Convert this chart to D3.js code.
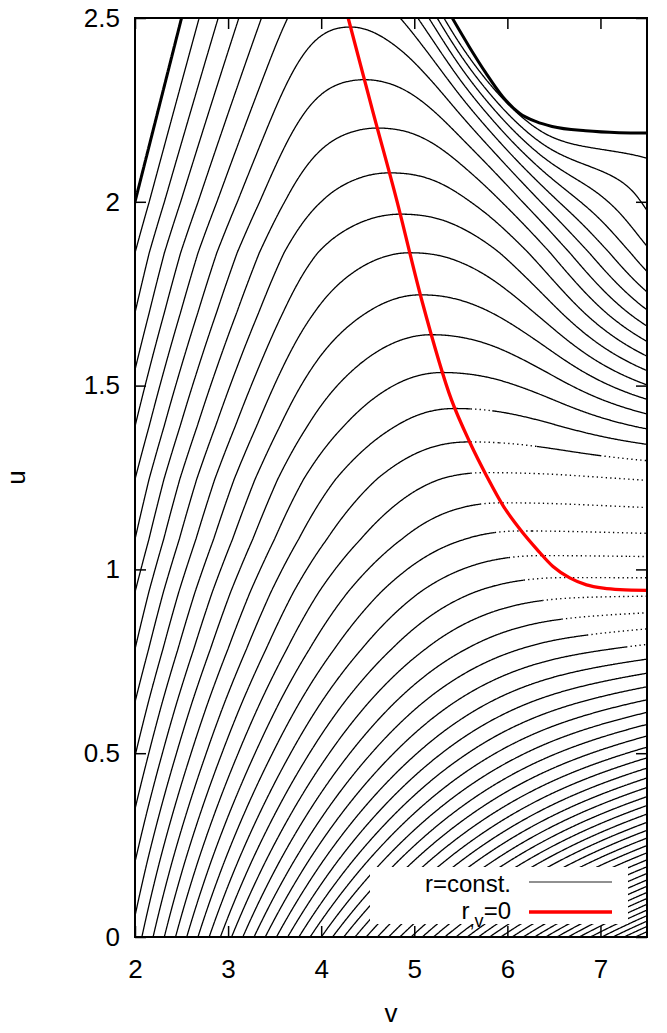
<!DOCTYPE html>
<html>
<head>
<meta charset="utf-8">
<script src="https://cdn.jsdelivr.net/npm/d3@7"></script>
<style>
body { margin: 0; background: #fff; }
text { font-family: "Liberation Sans", Arial, Helvetica, sans-serif; }
</style>
</head>
<body>
<svg id="chart" width="667" height="1033"></svg>
<script>
// ---- values ----
const xTicks = [2, 3, 4, 5, 6, 7];
const yTicks = [0, 0.5, 1, 1.5, 2, 2.5];

// apparent horizon r_v = 0, (v, u)
const horizonV = [4.29, 4.55, 4.81, 5.08, 5.40, 5.60, 5.78, 5.96, 6.14, 6.32, 6.49, 6.67, 6.85, 7.03, 7.21, 7.50];
const horizonU = [2.50, 2.25, 2.006, 1.733, 1.461, 1.344, 1.253, 1.171, 1.108, 1.054, 1.008, 0.977, 0.958, 0.949, 0.945, 0.943];

// thick r = 0 line, top right
const singV = [5.41, 5.59, 5.77, 5.95, 6.13, 6.31, 6.48, 6.84, 7.20, 7.50];
const singU = [2.499, 2.422, 2.350, 2.286, 2.241, 2.218, 2.205, 2.193, 2.188, 2.187];

// u where the contours 0, 1, 2 ... cut the left edge v = 2
const leftU = [2.0, 1.861, 1.698, 1.543, 1.389, 1.245, 1.082, 0.938, 0.783, 0.639, 0.492, 0.348, 0.204, 0.057];
// u where the contours 0, 1, 2 ... above the horizon cut the right edge v = 7.5
const rightU = [2.187, 2.155, 2.051, 1.829, 1.770, 1.734, 1.702, 1.668, 1.634, 1.598, 1.557, 1.521, 1.476, 1.430, 1.385, 1.331, 1.281, 1.231, 1.177, 1.122, 1.068, 1.018];

const levels = d3.range(1, 75);

// ---- layout ----
const X0 = 135, X1 = 647, Y0 = 18, Y1 = 937;
const x = d3.scaleLinear().domain([2, 7.5]).range([X0, X1]);
const y = d3.scaleLinear().domain([0, 2.5]).range([Y1, Y0]);
const svg = d3.select('#chart');

// ---- field: contour index, integrated along v on every row u ----
function monotone(xs, ys) {
  const n = xs.length, d = [], m = new Array(n);
  for (let i = 0; i < n - 1; i++) d.push((ys[i + 1] - ys[i]) / (xs[i + 1] - xs[i]));
  m[0] = d[0]; m[n - 1] = d[n - 2];
  for (let i = 1; i < n - 1; i++)
    m[i] = d[i - 1] * d[i] <= 0 ? 0 : 2 / (1 / d[i - 1] + 1 / d[i]);
  const f = function (t) {
    let i = d3.bisectRight(xs, t) - 1;
    i = Math.max(0, Math.min(n - 2, i));
    const h = xs[i + 1] - xs[i], s = (t - xs[i]) / h, s2 = s * s, s3 = s2 * s;
    return (2 * s3 - 3 * s2 + 1) * ys[i] + (s3 - 2 * s2 + s) * h * m[i] +
      (-2 * s3 + 3 * s2) * ys[i + 1] + (s3 - s2) * h * m[i + 1];
  };
  f.slope0 = m[0];
  return f;
}

const ahA = monotone(horizonV, horizonU);
const aTop = horizonU[0], vTop = horizonV[0];
const s0 = -ahA.slope0 / (aTop * aTop);
const tEnd = 0.9;
const c0 = Math.max(0, (1 / aTop - s0 * tEnd) / (tEnd * tEnd));
function invA(v) {
  if (v >= vTop) return 1 / ahA(Math.min(v, 7.5));
  const t = vTop - v;
  return Math.max(0, 1 / aTop - s0 * t - c0 * t * t);
}

const G = 8.3, lam = 0.45;
function alpha(v) { return 0.1 + 0.56 * Math.exp(-(v - 2.5) / 2.1); }
function rates(u, v) {
  const al = alpha(v);
  const w = al + (1 - al) * Math.exp(-u / lam);
  const xx = u * invA(v);
  const z = xx * xx - 1;
  if (z <= 0) return [-G * w * z, 0];
  return [0, G * w * z * (1 + z) * Math.exp(-Math.pow(z / 3.4, 6))];
}

const leftLevel = d3.scaleLinear().domain(leftU).range(d3.range(leftU.length));
const rightLevel = d3.scaleLinear().domain(rightU).range(d3.range(rightU.length));
const singAt = d3.scaleLinear().domain(singU).range(singV);

const VMIN = 1.9, VMAX = 7.6, UMIN = -0.1, UMAX = 2.6;
const nx = 570, ny = 900;
const dv = (VMAX - VMIN) / nx, du = (UMAX - UMIN) / ny;
const P = new Float64Array(nx * ny), Q = new Float64Array(nx * ny);

for (let j = 0; j < ny; j++) {
  const u = UMIN + (j + 0.5) * du;
  const vs = u < 2 ? 2 : u;
  const p0 = u < 2 ? leftLevel(u) : 0;
  const k = Math.max(0, Math.min(nx, Math.ceil((vs - VMIN) / dv - 0.5)));
  for (const dir of [1, -1]) {
    let p = p0, q = 0, vPrev = vs, rPrev = rates(u, vs);
    for (let i = dir > 0 ? k : k - 1; dir > 0 ? i < nx : i >= 0; i += dir) {
      const vi = VMIN + (i + 0.5) * dv;
      const rm = rates(u, (vPrev + vi) / 2), ri = rates(u, vi);
      const h = vi - vPrev;
      p += h / 6 * (rPrev[0] + 4 * rm[0] + ri[0]);
      q += h / 6 * (rPrev[1] + 4 * rm[1] + ri[1]);
      P[j * nx + i] = p; Q[j * nx + i] = q;
      vPrev = vi; rPrev = ri;
    }
  }
}

function rowAt(arr, j, v) {
  const fi = (v - VMIN) / dv - 0.5, i = Math.floor(fi), t = fi - i;
  return arr[j * nx + i] * (1 - t) + arr[j * nx + i + 1] * t;
}

// strength of the trapped part: a smooth cubic in u, least-squares fitted
// so that the rows meet the right-edge crossings and the r = 0 line
const uA = 1.06, uS = singU[singU.length - 1], uc = 1.8, deg = 4;
const A = d3.range(deg).map(() => new Array(deg).fill(0)), b = new Array(deg).fill(0);
for (let j = 0; j < ny; j++) {
  const u = UMIN + (j + 0.5) * du;
  if (u < uA || u > 2.5) continue;
  const vt = u >= uS ? singAt(u) : 7.5;
  const T = u >= uS ? 0 : rightLevel(u);
  const p = rowAt(P, j, vt), q = rowAt(Q, j, vt), t = u - uc;
  const f = d3.range(deg).map(e => q * Math.pow(t, e));
  for (let r = 0; r < deg; r++) {
    b[r] += f[r] * (p - T);
    for (let c = 0; c < deg; c++) A[r][c] += f[r] * f[c];
  }
}
function solve(M, rhs) {
  const n = rhs.length, m = M.map((row, i) => row.concat([rhs[i]]));
  for (let i = 0; i < n; i++) {
    let piv = i;
    for (let r = i + 1; r < n; r++) if (Math.abs(m[r][i]) > Math.abs(m[piv][i])) piv = r;
    [m[i], m[piv]] = [m[piv], m[i]];
    for (let r = 0; r < n; r++) {
      if (r === i) continue;
      const fct = m[r][i] / m[i][i];
      for (let c = i; c <= n; c++) m[r][c] -= fct * m[i][c];
    }
  }
  return m.map((row, i) => row[n] / row[i]);
}
const nCoef = solve(A, b);
function strength(u) {
  const t = Math.min(u, 2.5) - uc;
  let s = 0;
  nCoef.forEach((c, e) => { s += c * Math.pow(t, e); });
  return Math.max(0.1, s);
}

const field = new Float64Array(nx * ny);
for (let j = 0; j < ny; j++) {
  const n = strength(UMIN + (j + 0.5) * du);
  for (let i = 0; i < nx; i++)
    field[j * nx + i] = P[j * nx + i] - n * Q[j * nx + i];
}

// ---- drawing ----
const singPts = singV.map((v, i) => [v, singU[i]]);
const singLine = d3.line().x(d => x(d[0])).y(d => y(d[1])).curve(d3.curveMonotoneX);

svg.append('clipPath').attr('id', 'plot-clip')
  .append('path')
  .attr('d', `M${X0},${Y0}L${x(singV[0])},${Y0}` + singLine(singPts).replace(/^M/, 'L') +
    `L${X1},${Y1}L${X0},${Y1}Z`);
svg.append('clipPath').attr('id', 'frame-clip')
  .append('rect').attr('x', X0).attr('y', Y0).attr('width', X1 - X0).attr('height', Y1 - Y0);

const plot = svg.append('g').attr('clip-path', 'url(#plot-clip)');

function toPx(pt) {
  return [x(VMIN + pt[0] * dv), y(UMIN + pt[1] * du)];
}
function pathOf(run) {
  return 'M' + run.map(p => p[0].toFixed(2) + ',' + p[1].toFixed(2)).join('L');
}

let solidD = '', dottedD = '';
const contours = d3.contours().size([nx, ny]).thresholds(levels)(field);
contours.forEach(c => {
  c.coordinates.forEach(poly => poly.forEach(ring => {
    const pts = ring.map(toPx);
    let cur = null, curType = null;
    for (let k = 1; k < pts.length; k++) {
      const a = pts[Math.max(0, k - 6)], bb = pts[Math.min(pts.length - 1, k + 5)];
      const dx = bb[0] - a[0], dy = bb[1] - a[1];
      const vm = x.invert((pts[k - 1][0] + pts[k][0]) / 2);
      const type = (vm > 5.6 && Math.abs(dy) < 0.13 * Math.abs(dx)) ? 'd' : 's';
      if (type !== curType) {
        if (cur) { if (curType === 'd') dottedD += pathOf(cur); else solidD += pathOf(cur); }
        cur = [pts[k - 1]]; curType = type;
      }
      cur.push(pts[k]);
    }
    if (cur) { if (curType === 'd') dottedD += pathOf(cur); else solidD += pathOf(cur); }
  }));
});

plot.append('path').attr('d', solidD)
  .attr('fill', 'none').attr('stroke', '#000').attr('stroke-width', 1.3);
plot.append('path').attr('d', dottedD)
  .attr('fill', 'none').attr('stroke', '#000').attr('stroke-width', 1.4)
  .attr('stroke-dasharray', '1.3 3.2');

// r = 0: the centre u = v from the field, the top-right line from the data
const zero = d3.contours().size([nx, ny]).contour(field, 0);
let zeroD = '';
zero.coordinates.forEach(poly => poly.forEach(ring => {
  zeroD += pathOf(ring.map(toPx).filter(p => p[0] < x(3)));
}));
svg.append('g').attr('clip-path', 'url(#frame-clip)')
  .append('path').attr('d', zeroD)
  .attr('fill', 'none').attr('stroke', '#000').attr('stroke-width', 3);
svg.append('g').attr('clip-path', 'url(#frame-clip)')
  .append('path').datum(singPts).attr('d', singLine)
  .attr('fill', 'none').attr('stroke', '#000').attr('stroke-width', 3);

const horizon = horizonV.map((v, i) => [v, horizonU[i]]);
svg.append('g').attr('clip-path', 'url(#frame-clip)')
  .append('path').datum(horizon)
  .attr('d', d3.line().x(d => x(d[0])).y(d => y(d[1])).curve(d3.curveMonotoneX))
  .attr('fill', 'none').attr('stroke', '#ff0000').attr('stroke-width', 3.3);

// legend
const legend = svg.append('g').attr('font-size', 24);
legend.append('rect').attr('x', 370).attr('y', 867).attr('width', 258).attr('height', 57).attr('fill', '#fff');
legend.append('text').attr('x', 511).attr('y', 892).attr('text-anchor', 'end').text('r=const.');
legend.append('line').attr('x1', 529).attr('x2', 612).attr('y1', 882).attr('y2', 882)
  .attr('stroke', '#222').attr('stroke-width', 1.2);
const t2 = legend.append('text').attr('x', 511).attr('y', 919).attr('text-anchor', 'end');
t2.append('tspan').text('r');
t2.append('tspan').attr('dy', 8).attr('font-size', 18).text(',v');
t2.append('tspan').attr('dy', -8).text('=0');
legend.append('line').attr('x1', 529).attr('x2', 612).attr('y1', 912).attr('y2', 912)
  .attr('stroke', '#ff0000').attr('stroke-width', 3.3);

// axes with inward ticks on all four sides
function styleAxis(g) {
  g.select('.domain').remove();
  g.selectAll('.tick line').attr('stroke', '#000').attr('stroke-width', 1.5);
  g.selectAll('text').attr('font-size', 26).attr('fill', '#000')
    .attr('font-family', '"Liberation Sans", Arial, Helvetica, sans-serif');
}
svg.append('g').attr('transform', `translate(0,${Y1})`)
  .call(d3.axisBottom(x).tickValues(xTicks).tickSize(-11).tickPadding(23).tickFormat(String))
  .call(styleAxis);
svg.append('g').attr('transform', `translate(0,${Y0})`)
  .call(d3.axisTop(x).tickValues(xTicks).tickSize(-11).tickFormat(''))
  .call(styleAxis);
svg.append('g').attr('transform', `translate(${X0},0)`)
  .call(d3.axisLeft(y).tickValues(yTicks).tickSize(-11).tickPadding(15).tickFormat(String))
  .call(styleAxis);
svg.append('g').attr('transform', `translate(${X1},0)`)
  .call(d3.axisRight(y).tickValues(yTicks).tickSize(-11).tickFormat(''))
  .call(styleAxis);

svg.append('rect').attr('x', X0).attr('y', Y0).attr('width', X1 - X0).attr('height', Y1 - Y0)
  .attr('fill', 'none').attr('stroke', '#000').attr('stroke-width', 2);

svg.append('text').attr('x', (X0 + X1) / 2).attr('y', 1022).attr('text-anchor', 'middle')
  .attr('font-size', 26).text('v');
svg.append('text').attr('transform', `translate(25,${(Y0 + Y1) / 2}) rotate(-90)`)
  .attr('text-anchor', 'middle').attr('font-size', 26).text('u');
</script>
</body>
</html>
